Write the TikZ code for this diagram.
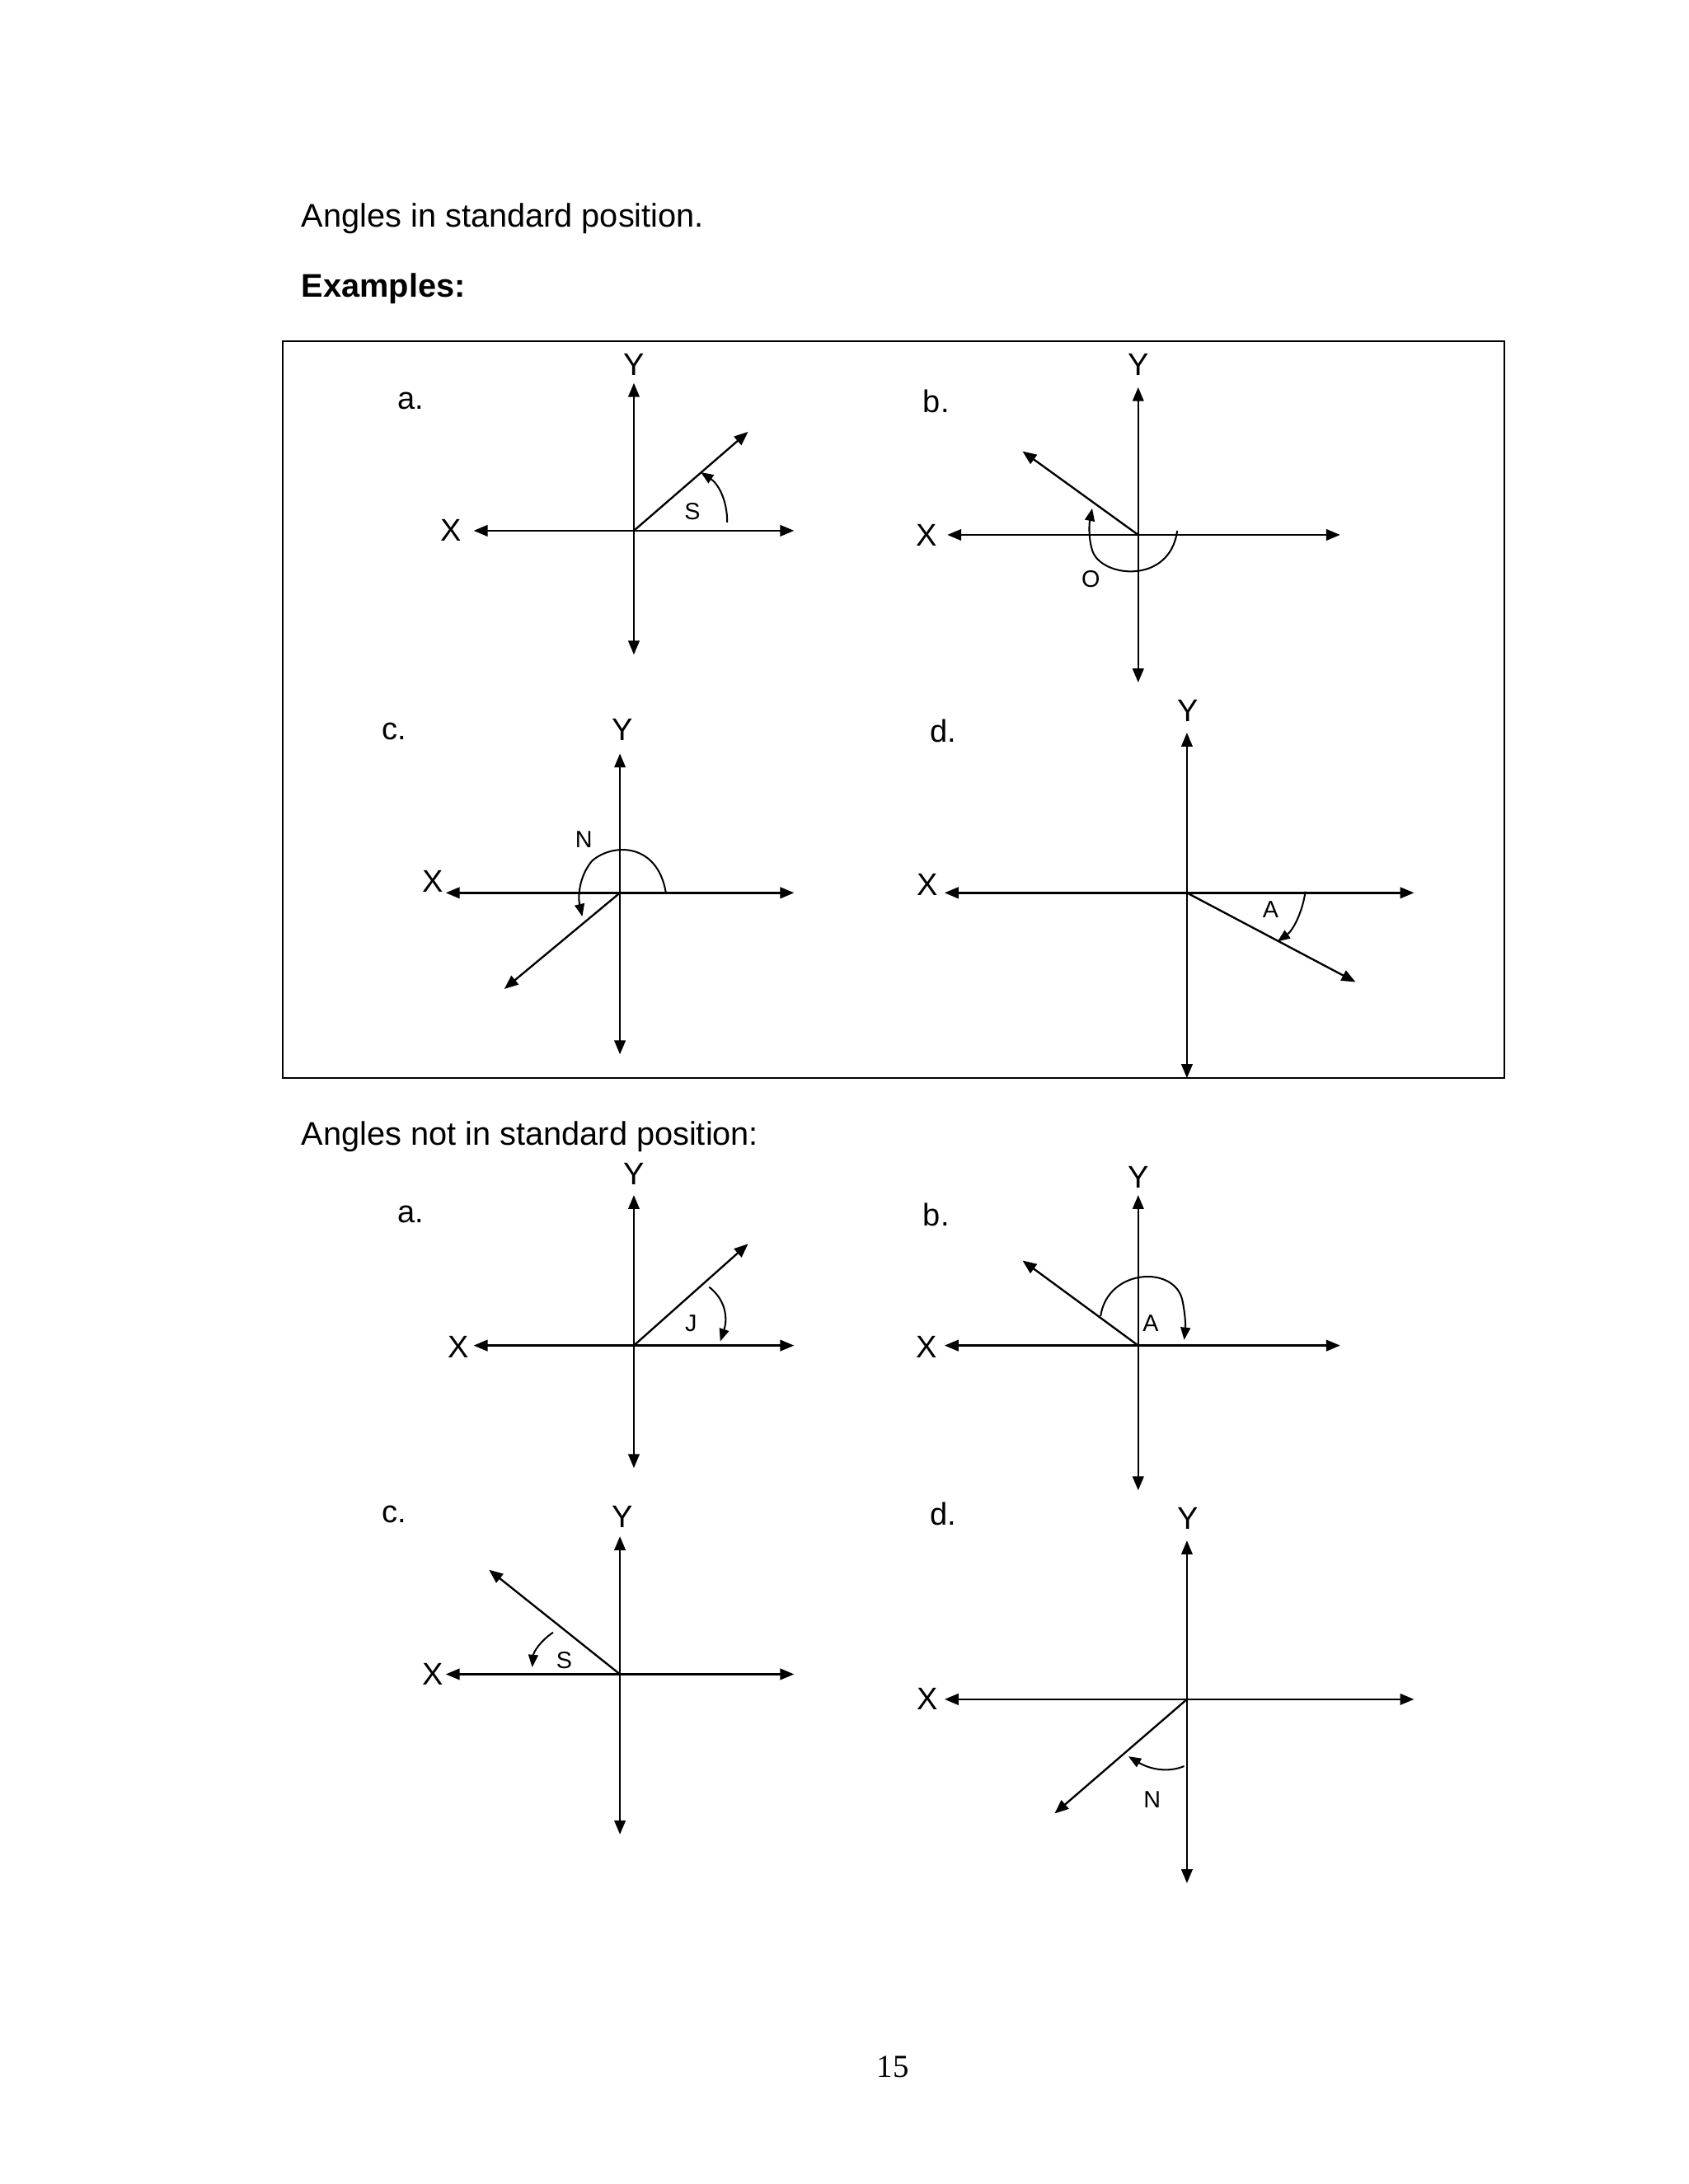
\documentclass[tikz,border=0pt]{standalone}
\usepackage{fontspec}
\setmainfont{Liberation Sans}
\newfontfamily\serifpg{Liberation Serif}
\usetikzlibrary{arrows.meta}
\begin{document}
\begin{tikzpicture}[x=1pt,y=-1pt,
  ax/.style={line width=1.4pt,{Triangle[length=10pt,width=8pt]}-{Triangle[length=10pt,width=8pt]}},
  ray/.style={line width=1.4pt,-{Triangle[length=10pt,width=8pt]}},
  arc/.style={line width=1.2pt,-{Triangle[length=9pt,width=7pt]}},
  big/.style={font=\fontsize{23.5}{27}\selectfont},
  lab/.style={font=\fontsize{22.5}{25}\selectfont,inner sep=0pt},
  sm/.style={font=\fontsize{17}{19}\selectfont,inner sep=0pt}]
\useasboundingbox (0,0) rectangle (1212,1568);
\node[big,anchor=west] (t1) at (213,157) {Angles in standard position.};
\node[big,anchor=west,font=\fontsize{23.5}{27}\selectfont\bfseries] (t2) at (213,207) {Examples:};
\draw[line width=1.2pt] (203,245) rectangle (1080,774);
% a
\coordinate (o1) at (455,381);
\draw[ax] (455,275) -- (455,470); \draw[ax] (340,381) -- (570,381);
\draw[ray] (o1) -- (537,310);
\draw[arc] (522,375) .. controls (522,358) and (515,347) .. (503,339);
\node[lab] at (455,262) {Y}; \node[lab] at (324,381) {X}; \node[sm] at (497,367) {S}; \node[lab] at (295,288) {a.};
% b
\coordinate (o2) at (817,384);
\draw[ax] (817,278) -- (817,490); \draw[ax] (680,384) -- (962,384);
\draw[ray] (o2) -- (734,324);
\draw[arc] (845,381) .. controls (840,420) and (790,415) .. (784,395) .. controls (781,385) and (782,375) .. (784,365);
\node[lab] at (817,262) {Y}; \node[lab] at (665,384) {X}; \node[sm] at (783,416) {O}; \node[lab] at (672,288) {b.};
% c
\coordinate (o3) at (445,641);
\draw[ax] (445,541) -- (445,757); \draw[ax] (320,641) -- (570,641);
\draw[ray] (o3) -- (362,710);
\draw[arc] (478,641) .. controls (472,605) and (440,605) .. (425,618) .. controls (415,630) and (415,645) .. (418,658);
\node[lab] at (447,524) {Y}; \node[lab] at (311,633) {X}; \node[sm] at (419,603) {N}; \node[lab] at (283,525) {c.};
% d
\coordinate (o4) at (852,641);
\draw[ax] (852,526) -- (852,774); \draw[ax] (678,641) -- (1015,641);
\draw[ray] (o4) -- (973,705);
\draw[arc] (937,640) .. controls (935,655) and (928,668) .. (917,676);
\node[lab] at (853,510) {Y}; \node[lab] at (666,635) {X}; \node[sm] at (912,653) {A}; \node[lab] at (677,525) {d.};
% second section
\node[big,anchor=west] (t3) at (213,816) {Angles not in standard position:};
% a
\coordinate (p1) at (455,966);
\draw[ax] (455,858) -- (455,1054); \draw[ax] (340,966) -- (570,966);
\draw[ray] (p1) -- (537,893);
\draw[arc] (509,924) .. controls (522,934) and (522,948) .. (517,963);
\node[lab] at (455,843) {Y}; \node[lab] at (329,967) {X}; \node[sm] at (496,950) {J}; \node[lab] at (295,872) {a.};
% b
\coordinate (p2) at (817,966);
\draw[ax] (817,858) -- (817,1070); \draw[ax] (678,966) -- (962,966);
\draw[ray] (p2) -- (734,905);
\draw[arc] (790,945) .. controls (795,910) and (845,908) .. (849,935) .. controls (851,945) and (851,953) .. (850,962);
\node[lab] at (817,845) {Y}; \node[lab] at (665,967) {X}; \node[sm] at (826,950) {A}; \node[lab] at (672,872) {b.};
% c
\coordinate (p3) at (445,1202);
\draw[ax] (445,1103) -- (445,1317); \draw[ax] (320,1202) -- (570,1202);
\draw[ray] (p3) -- (351,1127);
\draw[arc] (397,1172) .. controls (388,1178) and (383,1186) .. (382,1197);
\node[lab] at (447,1089) {Y}; \node[lab] at (311,1202) {X}; \node[sm] at (405,1192) {S}; \node[lab] at (283,1087) {c.};
% d
\coordinate (p4) at (852,1220);
\draw[ax] (852,1106) -- (852,1352); \draw[ax] (678,1220) -- (1015,1220);
\draw[ray] (p4) -- (757,1302);
\draw[arc] (850,1268) .. controls (838,1273) and (825,1270) .. (810,1261);
\node[lab] at (853,1090) {Y}; \node[lab] at (666,1220) {X}; \node[sm] at (827,1292) {N}; \node[lab] at (677,1087) {d.};
\node[font=\serifpg\fontsize{23}{27}\selectfont] (pg) at (641,1484) {15};
\end{tikzpicture}
\end{document}
